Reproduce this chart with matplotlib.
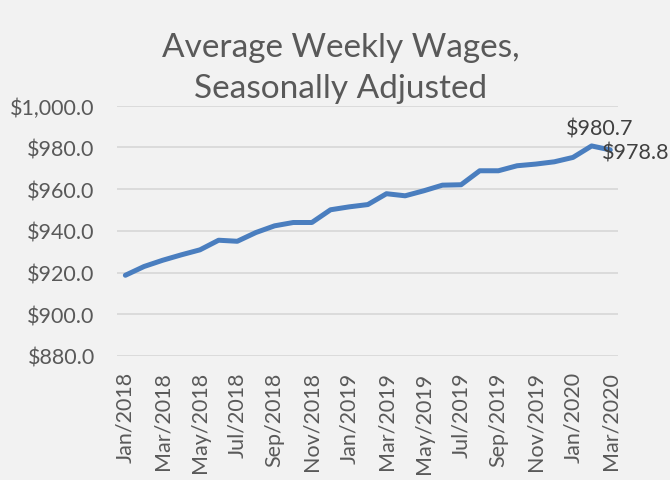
import matplotlib.pyplot as plt
import numpy as np

months = ['Jan', 'Feb', 'Mar', 'Apr', 'May', 'Jun', 'Jul', 'Aug', 'Sep', 'Oct', 'Nov', 'Dec']
labels = [f'{m}/{y}' for y in (2018, 2019) for m in months] + ['Jan/2020', 'Feb/2020', 'Mar/2020']
wages = [918.7, 922.9, 925.9, 928.5, 930.9, 935.5, 935.0, 939.2, 942.4, 944.0, 944.0, 950.1,
         951.5, 952.6, 957.8, 956.8, 959.2, 961.9, 962.1, 968.8, 968.8, 971.2, 972.0, 973.1,
         975.2, 980.7, 978.8]

bg = '#f2f2f2'
text_color = '#595959'
plt.rcParams['font.family'] = ['Lato', 'DejaVu Sans']

fig = plt.figure(figsize=(6.7, 4.81), dpi=100, facecolor=bg)
ax = fig.add_axes([0.1746, 0.2578, 0.7474, 0.5204], facecolor=bg)

x = np.arange(len(wages))
ax.plot(x, wages, color='#4a7ebf', linewidth=3.6, solid_capstyle='round', solid_joinstyle='round', zorder=3)

ax.set_ylim(880, 1000)
ax.set_xlim(-0.45, len(wages) - 0.6)
ax.set_yticks(np.arange(880, 1001, 20))
ax.yaxis.set_major_formatter(plt.FuncFormatter(lambda v, p: f'${v:,.1f}'))
ax.set_xticks(x[::2])
ax.set_xticklabels(labels[::2], rotation=90)
ax.tick_params(axis='both', length=0, labelsize=15.5, colors=text_color)
ax.tick_params(axis='x', pad=11)
ax.tick_params(axis='y', pad=16)

ax.grid(axis='y', color='#d9d9d9', linewidth=1.3)
ax.set_axisbelow(True)
for s in ax.spines.values():
    s.set_visible(False)

# data labels for the last two months
ax.annotate(f'${wages[-2]:.1f}', xy=(x[-2], wages[-2]), xytext=(6, 5), textcoords='offset points',
            ha='center', va='bottom', fontsize=15.5, color='#404040')
ax.annotate(f'${wages[-1]:.1f}', xy=(x[-1], wages[-1]), xytext=(-6, -2), textcoords='offset points',
            ha='left', va='center', fontsize=15.5, color='#404040')

fig.text(0.509, 0.881, 'Average Weekly Wages,', ha='center', va='baseline',
         fontsize=24, color=text_color)
fig.text(0.509, 0.796, 'Seasonally Adjusted', ha='center', va='baseline',
         fontsize=24, color=text_color)

fig.savefig('out.png', dpi=100, facecolor=bg)
